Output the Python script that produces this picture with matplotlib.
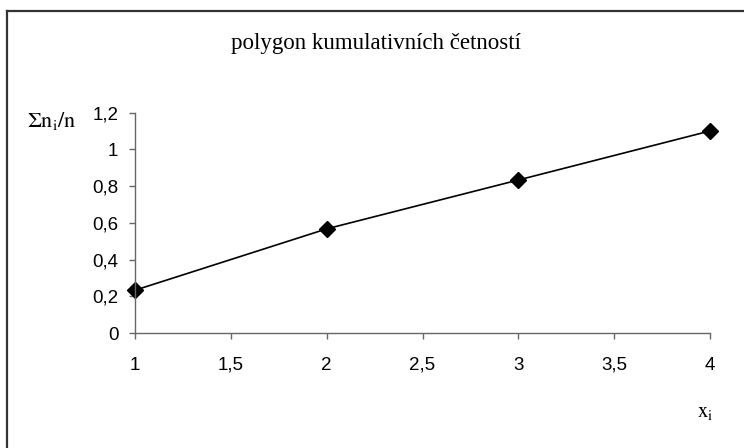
import matplotlib
matplotlib.use('Agg')
import matplotlib.pyplot as plt
from matplotlib.lines import Line2D
from matplotlib.ticker import FuncFormatter

# cumulative relative frequencies
x_vals = [1, 2, 3, 4]
cum_freq = [0.233, 0.567, 0.833, 1.1]

x_ticks = [1, 1.5, 2, 2.5, 3, 3.5, 4]
y_ticks = [0, 0.2, 0.4, 0.6, 0.8, 1.0, 1.2]

plt.rcParams['mathtext.fontset'] = 'stix'

fig = plt.figure(figsize=(7.44, 4.48), dpi=100)
ax = fig.add_axes([135/744, 1 - 333/448, 575/744, 220.4/448])

ax.plot(x_vals, cum_freq, color='black', lw=1.2, marker='D', ms=8.5,
        markerfacecolor='black', markeredgecolor='black', clip_on=False)

ax.set_xlim(1, 4)
ax.set_ylim(0, 1.2)
ax.set_xticks(x_ticks)
ax.set_yticks(y_ticks)

# czech decimal comma
comma = FuncFormatter(lambda v, p: ('%g' % v).replace('.', ','))
ax.xaxis.set_major_formatter(comma)
ax.yaxis.set_major_formatter(comma)

for s in ['top', 'right']:
    ax.spines[s].set_visible(False)
for s in ['left', 'bottom']:
    ax.spines[s].set_color('#666666')
    ax.spines[s].set_linewidth(1.0)

ax.tick_params(axis='both', colors='#666666', length=4, width=1.0,
               labelcolor='black', labelsize=13.5)
ax.tick_params(axis='y', pad=8)
ax.tick_params(axis='x', pad=13)
for lab in ax.get_xticklabels() + ax.get_yticklabels():
    lab.set_fontfamily('Liberation Sans')

fig.text(376/744, 1 - 43/448, 'polygon kumulativních četností',
         ha='center', va='center', family='Liberation Serif', fontsize=16.5)
fig.text(27/744, 1 - 121/448, r'$\mathrm{\Sigma n_i/n}$',
         ha='left', va='center', fontsize=16)
fig.text(705/744, 1 - 412/448, r'$\mathrm{x_i}$',
         ha='center', va='center', fontsize=15)

# outer chart frame (only top and left edges fall inside the image)
fig.add_artist(Line2D([7/744, 7/744], [0, 1 - 11/448], transform=fig.transFigure,
                      color='#333333', lw=1.6))
fig.add_artist(Line2D([7/744, 1], [1 - 11/448, 1 - 11/448], transform=fig.transFigure,
                      color='#333333', lw=1.6))

fig.savefig('out.png', dpi=100)
